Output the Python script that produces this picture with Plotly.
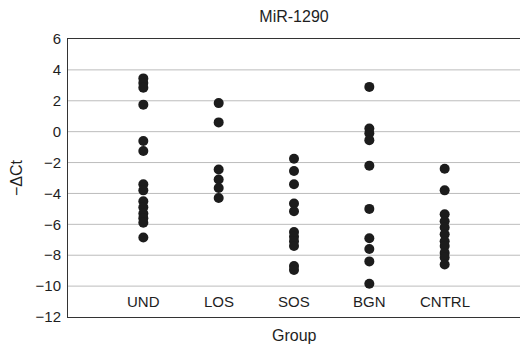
import plotly.graph_objects as go

categories = ["UND", "LOS", "SOS", "BGN", "CNTRL"]
und = [3.45, 3.15, 2.85, 1.75, -0.6, -1.25, -3.4, -3.8, -4.5, -4.9, -5.3, -5.6, -5.9, -6.85]
los = [1.85, 0.6, -2.45, -3.1, -3.65, -4.3]
sos = [-1.75, -2.55, -3.4, -4.65, -5.15, -6.5, -6.8, -7.1, -7.4, -8.7, -8.95]
bgn = [2.9, 0.2, -0.1, -0.55, -2.2, -5.0, -6.9, -7.6, -8.4, -9.85]
cntrl = [-2.4, -3.8, -5.35, -5.8, -6.2, -6.65, -7.1, -7.4, -7.85, -8.15, -8.6]
series = [und, los, sos, bgn, cntrl]

title = "MiR-1290"
x_title = "Group"
y_title = "\u2212\u0394Ct"
y_ticks = [6, 4, 2, 0, -2, -4, -6, -8, -10, -12]
grid_ticks = [4, 2, 0, -2, -4, -6, -8, -10]

FONT = "Liberation Sans, Arial, sans-serif"
TXT = "#1e1e1e"

xs, ys = [], []
for cat, vals in zip(categories, series):
    xs += [cat] * len(vals)
    ys += vals

fig = go.Figure()
fig.add_trace(go.Scatter(
    x=xs, y=ys, mode="markers",
    marker=dict(size=10, color="#1c1c1c", line=dict(width=0)),
    showlegend=False, cliponaxis=False, hoverinfo="skip",
))

L, R, T, B = 68, 0, 39, 27
W, H = 520, 344
pw, ph = W - L - R, H - T - B

annotations = []
for cat in categories:
    annotations.append(dict(x=cat, y=-11, xref="x", yref="y", text=cat,
                            showarrow=False, font=dict(size=15, color=TXT, family=FONT)))
annotations.append(dict(x=0.5, y=-(335 - (H - B)) / ph, xref="paper", yref="paper",
                        yanchor="middle", text=x_title, showarrow=False,
                        font=dict(size=16, color=TXT, family=FONT)))
annotations.append(dict(x=-(L - 16) / pw, y=0.5, xref="paper", yref="paper", text=y_title,
                        xanchor="center", showarrow=False, textangle=-90,
                        font=dict(size=16, color=TXT, family=FONT)))

shapes = [dict(type="line", xref="paper", yref="y", x0=0, x1=1, y0=g, y1=g,
               line=dict(color="#bcbcbc", width=1), layer="below") for g in grid_ticks]

fig.update_layout(
    width=W, height=H,
    margin=dict(l=L, r=R, t=T, b=B, autoexpand=False),
    paper_bgcolor="white", plot_bgcolor="white",
    font=dict(family=FONT, size=15, color=TXT),
    title=dict(text=title, x=(L + pw / 2) / W, xanchor="center", y=1 - 16 / H,
               yanchor="middle", font=dict(size=16, color=TXT, family=FONT)),
    xaxis=dict(type="category", categoryorder="array", categoryarray=categories,
               range=[-1, 5], showticklabels=False, showgrid=False, zeroline=False,
               showline=True, mirror=True, linecolor="#333333", linewidth=1, ticks=""),
    yaxis=dict(range=[-12, 6], tickvals=y_ticks, showgrid=False,
               zeroline=False, showline=True, linecolor="#333333", linewidth=1,
               ticks="", ticklabelstandoff=3, tickfont=dict(size=15, color=TXT, family=FONT)),
    annotations=annotations,
    shapes=shapes,
    hovermode=False,
)

fig.write_html("out.html", config={"displayModeBar": False, "staticPlot": True},
               post_script="document.body.style.margin='0';document.body.style.overflow='hidden';")
